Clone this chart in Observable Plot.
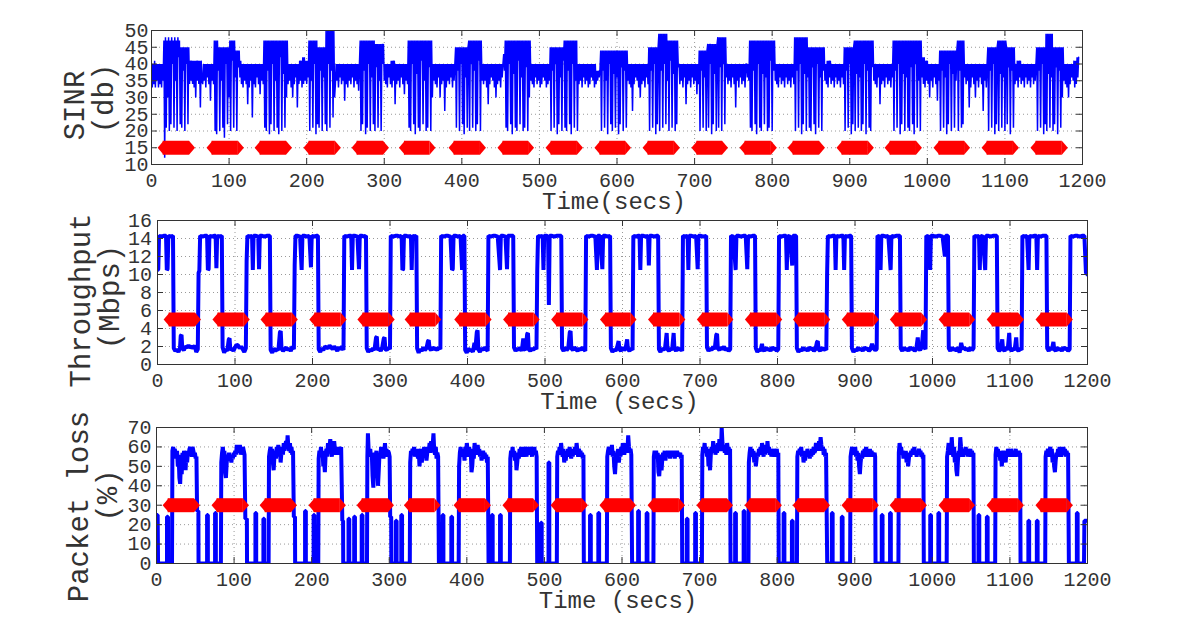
<!DOCTYPE html>
<html><head><meta charset="utf-8">
<script src="https://cdn.jsdelivr.net/npm/d3@7"></script>
<script src="https://cdn.jsdelivr.net/npm/@observablehq/plot@0.6"></script>
<style>
html,body{margin:0;padding:0;background:#fff;}
#chart{position:relative;width:1200px;height:633px;overflow:hidden;background:#fff;}
#chart > svg{position:absolute;left:0;}
</style></head><body><div id="chart"></div>
<script>
// ---------- tick labels ----------
const xTicks = [0,100,200,300,400,500,600,700,800,900,1000,1100,1200];
const sinrTicks = [10,15,20,25,30,35,40,45,50];
const tputTicks = [0,2,4,6,8,10,12,14,16];
const lossTicks = [0,10,20,30,40,50,60,70];

// ---------- red marker spans (flat part, secs) ----------
const markStart = [15,78,140,203,265,326,390,453,515,578,640,703,765,827,890,952,1015,1077,1140];
const markEnd   = [49,112,174,237,299,359,424,486,549,611,674,736,799,861,924,986,1048,1111,1174];
const markY = {sinr: 15, tput: 5, loss: 30};

// ---------- SINR (db), one sample per second from t=0 ----------
const SINR_DT = 1;
const sinr = [
40,33,40,34,41,33,40,35,40,33,40,34,40,33,40,35,
47,12,48,21,47,30,48,20,47,22,48,40,47,21,48,35,47,20,48,42,47,22,
45,21,45,38,45,20,45,40,45,22,45,
34,41,35,41,34,41,33,41,30,41,35,41,34,41,27,41,35,
34,40,35,40,33,40,36,40,34,40,29,40,35,40,34,
47,20,47,19,47,38,45,20,45,35,45,21,45,18,45,40,45,22,45,30,47,20,47,41,47,21,47,36,44,20,44,39,44,
36,41,34,40,33,40,35,40,34,40,28,40,33,40,35,40,24,40,34,40,33,40,36,40,34,40,31,40,35,40,34,
47,21,47,20,47,38,47,19,47,22,47,40,47,20,47,35,47,21,47,19,47,42,47,20,47,37,47,21,47,30,47,
34,40,35,40,33,40,30,40,34,40,36,40,27,40,34,41,35,41,33,42,34,42,35,41,34,41,36,
47,20,47,35,47,21,47,40,47,19,47,22,45,21,45,38,45,20,45,36,45,22,50,20,50,40,50,21,50,38,50,24,50,30,
34,40,35,40,33,40,36,40,34,40,35,40,29,40,34,40,33,40,35,40,34,40,36,40,33,40,35,40,34,40,32,40,
47,20,47,22,47,38,47,19,47,21,47,40,47,20,47,36,47,22,47,20,46,39,46,21,46,35,46,20,46,40,46,
35,40,34,40,33,40,36,40,34,41,33,41,35,41,28,40,34,40,35,40,33,40,36,40,34,40,31,40,35,40,34,
47,21,47,20,47,40,47,22,47,19,47,37,47,21,47,20,47,41,47,22,47,35,47,20,47,21,47,39,47,20,47,30,
40,35,40,34,40,33,40,36,40,30,40,34,40,35,40,26,40,33,40,35,40,34,40,36,40,33,40,35,40,
45,21,45,38,45,20,45,40,45,22,45,19,45,36,45,21,45,47,20,47,40,47,21,47,38,47,20,47,22,47,41,47,20,47,35,
40,34,40,35,40,33,40,28,40,34,40,36,40,35,40,33,40,30,40,34,40,35,40,33,40,36,40,
43,38,47,21,47,20,47,40,47,22,47,19,47,37,47,21,47,20,47,41,47,22,47,36,47,20,47,21,47,39,47,20,47,30,47,
35,40,34,40,33,40,36,40,34,40,35,40,33,40,34,40,36,40,35,40,33,40,34,40,35,
45,20,45,38,45,21,45,40,45,19,45,22,45,36,45,20,45,41,47,21,47,20,47,38,47,22,47,19,47,40,47,21,47,35,47,20,
40,34,40,35,40,33,40,36,40,34,40,35,40,33,40,34,40,36,40,35,40,33,40,34,38,35,38,36,38,
44,20,44,38,44,21,44,35,44,19,44,40,44,22,44,20,44,37,44,21,44,36,44,19,44,22,44,39,44,20,44,38,44,21,44,
35,40,34,40,33,40,26,40,34,40,36,40,35,40,33,40,30,40,34,40,35,40,33,40,36,40,34,
45,20,45,38,45,21,45,40,45,19,45,22,45,49,20,49,38,49,21,49,40,49,22,49,35,47,20,47,41,47,21,47,37,47,20,47,22,47,39,
40,34,40,35,40,33,40,36,40,28,40,34,40,35,40,33,40,36,40,34,40,35,40,31,40,34,
44,20,44,38,44,21,44,36,44,20,44,46,21,46,40,46,19,46,22,46,37,46,20,46,48,21,48,39,48,20,48,40,48,22,48,36,
40,34,40,35,40,33,40,36,40,34,40,27,40,35,40,33,40,36,40,34,40,35,40,33,40,
40,36,40,35,47,21,47,20,47,38,47,22,47,19,47,40,47,21,47,20,47,37,47,22,47,36,47,20,47,21,47,41,47,20,47,38,47,
35,40,34,40,33,40,36,40,34,40,35,40,33,40,36,40,34,40,35,40,33,40,36,40,34,
48,20,48,38,48,21,48,40,48,19,48,22,48,37,48,20,48,36,45,21,45,20,45,39,45,22,45,19,45,40,45,21,45,36,45,20,45,38,45,
35,40,34,41,33,41,36,41,34,40,35,40,33,40,36,40,34,40,35,40,33,40,36,40,34,
45,20,45,38,45,21,45,40,45,19,45,22,45,47,20,47,37,47,21,47,36,47,20,47,22,47,40,47,19,47,38,47,21,47,20,47,39,47,
35,40,34,40,33,40,36,40,28,40,34,40,35,40,33,40,36,40,34,40,35,40,33,40,36,
47,20,47,38,47,21,47,40,47,19,47,22,47,37,47,20,47,36,47,21,47,20,47,39,47,22,47,19,47,40,47,21,47,35,47,20,47,
36,42,34,42,33,41,35,41,34,40,30,40,35,40,33,40,36,40,34,40,29,40,35,
44,20,44,38,44,21,44,36,44,19,44,22,44,40,44,20,44,37,44,21,44,35,44,47,20,47,38,47,21,47,22,47,36,
40,34,40,35,40,27,40,33,40,36,40,34,40,30,40,35,40,33,40,36,40,34,40,26,40,35,40,33,40,
45,20,45,38,45,21,45,40,45,19,45,22,45,47,20,47,37,47,21,47,36,47,20,47,45,22,45,39,45,19,45,38,45,21,45,
34,40,35,41,33,41,36,41,34,40,35,40,33,40,36,40,34,40,35,40,33,40,36,40,34,40,35,40,
45,20,45,38,45,21,45,40,45,19,45,22,49,20,49,37,49,21,49,36,49,20,45,22,45,39,45,19,45,38,45,21,45,30,45,
35,40,34,40,33,40,30,40,34,40,36,40,35,41,33,41,34,42,36,42
];

// ---------- Throughput (Mbps): [secs, value] vertices ----------
const throughput = [
[0,10.5],[1,10.6],[2,14.3],[5,14.2],[8,14.3],[11,14.3],[12,10.5],[13,10.6],[14,14.3],[17,14.2],[20,14.3],
[21,1.8],[23,1.5],[25,1.7],[27,1.4],[29,1.8],[30,3.2],[31,3.3],[32,1.8],[34,1.6],[36,2.0],[38,1.9],[40,2.1],[42,1.9],[44,2.0],[46,1.8],[48,2.1],[50,1.4],[52,1.7],
[53,10.2],[54,10.4],[55,14.3],[58,14.2],[61,14.3],[64,14.3],[65,10.5],[66,10.6],[67,14.3],[70,14.2],[73,14.3],[75,14.3],[76,10.7],[77,14.3],[80,14.2],[83,14.3],
[84,1.9],[86,1.3],[88,1.7],[90,1.5],[92,2.8],[93,2.9],[94,1.6],[96,1.8],[98,1.5],[100,1.9],[102,2.2],[104,2.1],[106,1.8],[108,2.0],[110,1.7],[112,1.4],[114,1.8],
[115,11.5],[116,14.3],[119,14.2],[122,14.3],[123,10.5],[124,14.3],[127,14.3],[130,14.2],[131,10.6],[132,14.3],[135,14.3],[138,14.2],[141,14.3],[145,14.3],
[146,1.6],[148,1.3],[150,1.8],[152,1.5],[154,1.7],[156,1.6],[158,3.6],[159,3.7],[160,1.8],[162,1.5],[164,1.7],[166,1.9],[168,1.6],[170,1.8],[172,1.5],[174,2.0],[176,1.7],
[177,11],[178,14.3],[181,14.3],[184,14.2],[186,10.5],[187,14.3],[190,14.3],[193,14.2],[196,14.3],[198,10.8],[199,14.3],[202,14.2],[205,14.3],[207,14.3],
[208,1.7],[210,1.4],[212,1.8],[214,1.6],[216,2.0],[218,1.9],[220,1.8],[222,2.1],[224,1.9],[226,1.7],[228,2.0],[230,1.8],[232,1.5],[234,1.9],[236,1.7],[238,2.0],[240,1.6],
[241,14.3],[244,14.2],[247,14.3],[250,14.3],[251,10.5],[252,14.3],[255,14.3],[258,14.2],[260,10.6],[261,14.3],[264,14.3],[267,14.2],[269,14.3],
[270,1.8],[272,1.4],[274,1.7],[276,1.5],[278,1.8],[280,1.6],[282,3.0],[283,3.1],[284,1.6],[286,1.8],[288,1.5],[290,1.9],[292,2.9],[293,3.0],[294,1.7],[296,1.6],[298,1.9],[300,1.7],
[301,14.3],[304,14.2],[307,14.3],[310,14.3],[313,14.2],[315,14.3],[316,10.5],[317,10.6],[318,14.3],[321,14.3],[324,14.2],[327,14.3],[328,10.5],[329,14.3],[332,14.2],[334,14.3],
[335,1.8],[337,1.3],[339,1.7],[341,1.5],[343,1.9],[345,1.6],[347,1.8],[349,2.6],[350,2.7],[351,1.8],[353,1.6],[355,1.9],[357,1.7],[359,1.8],[361,1.6],[363,1.9],[365,1.7],
[366,14.3],[369,14.2],[372,14.3],[375,14.3],[378,14.2],[380,10.5],[381,10.6],[382,14.3],[385,14.3],[388,14.2],[391,14.3],[393,10.5],[394,14.3],[396,14.3],
[397,1.6],[399,1.3],[401,1.8],[403,1.5],[405,1.7],[407,1.4],[409,2.4],[410,1.6],[412,3.6],[413,3.8],[414,1.7],[416,1.4],[418,1.8],[420,1.6],[422,1.9],[424,1.7],[426,1.5],
[427,14.3],[430,14.2],[433,14.3],[436,14.3],[439,14.2],[442,10.5],[443,14.3],[446,14.3],[449,14.2],[451,10.6],[452,14.3],[455,14.3],[459,14.3],
[460,1.9],[462,1.5],[464,1.8],[466,1.6],[468,1.9],[470,1.5],[472,2.9],[473,1.8],[475,1.6],[477,3.4],[478,3.5],[479,1.7],[481,1.5],[483,1.8],[485,1.6],[487,1.9],[489,1.7],
[490,10.5],[491,14.3],[494,14.2],[497,14.3],[498,10.5],[499,14.3],[502,14.3],[504,14.2],[505,6.6],[506,14.3],[509,14.3],[512,14.2],[515,14.3],[518,14.3],[521,14.3],
[522,1.8],[524,1.5],[526,1.9],[528,1.6],[530,1.8],[532,3.6],[533,3.7],[534,1.8],[536,1.6],[538,1.9],[540,1.7],[542,1.5],[544,1.8],[546,1.6],[548,1.9],[550,1.7],[552,1.5],
[553,14.3],[556,14.2],[559,14.3],[562,14.3],[565,14.2],[567,10.5],[568,14.3],[571,14.3],[574,10.6],[575,14.3],[578,14.3],[581,14.2],[584,14.3],
[585,1.8],[587,1.4],[589,1.7],[591,1.5],[593,1.9],[595,2.6],[596,1.7],[598,1.5],[600,1.9],[602,1.6],[604,1.8],[606,2.8],[607,1.7],[609,1.5],[611,1.8],[613,1.6],
[614,14.3],[617,14.2],[620,14.3],[622,14.3],[623,10.5],[624,14.3],[627,14.3],[630,14.2],[633,14.3],[634,11],[635,14.3],[638,14.3],[641,14.2],[644,14.3],[646,14.3],
[647,1.7],[649,1.4],[651,1.8],[653,1.6],[655,1.9],[657,3.5],[658,1.7],[660,1.5],[662,1.8],[664,1.6],[666,3.5],[667,1.8],[669,1.5],[671,1.9],[673,1.6],[675,1.8],[677,1.5],
[678,14.3],[681,14.2],[684,14.3],[685,10.5],[686,14.3],[689,14.3],[692,14.2],[695,14.3],[697,10.6],[698,14.3],[701,14.3],[704,14.2],[708,14.3],
[709,1.9],[711,1.5],[713,1.8],[715,1.6],[717,2.0],[719,1.7],[721,3.3],[722,3.4],[723,1.8],[725,1.6],[727,1.9],[729,1.7],[731,2.0],[733,1.6],[735,1.8],[737,1.5],[739,1.7],
[740,14.3],[743,14.2],[746,10.5],[747,14.3],[750,14.3],[753,14.2],[756,14.3],[759,14.3],[761,10.6],[762,14.3],[765,14.2],[768,14.3],[771,14.3],
[772,1.8],[774,1.4],[776,1.7],[778,1.5],[780,2.3],[781,1.7],[783,1.5],[785,1.9],[787,1.6],[789,1.8],[791,1.5],[793,1.9],[795,1.7],[797,1.8],[799,1.5],[801,1.7],
[802,14.3],[805,14.2],[808,14.3],[811,14.3],[812,10.5],[813,14.3],[816,14.2],[819,11],[820,14.3],[822,14.3],[824,14.3],
[825,1.8],[827,1.4],[829,1.7],[831,1.5],[833,1.9],[835,1.6],[837,1.8],[839,1.5],[841,1.9],[843,1.7],[845,1.8],[847,1.5],[849,1.7],[851,2.5],[852,2.6],[853,1.7],[855,1.5],[857,1.9],[859,1.6],[861,1.8],[863,1.6],
[864,10],[865,14.3],[868,14.2],[871,14.3],[874,14.3],[875,10.5],[876,14.3],[879,14.2],[882,14.3],[885,14.3],[886,10.5],[887,14.3],[890,14.2],[893,14.3],[895,14.3],
[896,1.8],[898,1.4],[900,1.7],[902,1.5],[904,1.9],[906,1.6],[908,1.8],[910,1.5],[912,1.9],[914,1.7],[916,1.8],[918,1.5],[920,1.7],[922,2.3],[924,1.8],[926,1.6],[928,1.7],
[929,14.3],[932,14.2],[933,10.5],[934,14.3],[937,14.3],[940,14.2],[943,14.3],[946,10.5],[947,14.3],[950,14.2],[953,14.3],[956,14.3],[958,14.3],
[959,1.8],[961,1.5],[963,1.9],[965,1.6],[967,1.8],[969,1.5],[971,1.9],[973,1.7],[975,1.8],[977,1.5],[979,1.7],[981,3.0],[982,1.8],[984,1.6],[986,1.9],[988,3.8],[989,2.0],[991,1.7],
[992,14.3],[995,14.2],[997,10.5],[998,14.3],[1001,14.3],[1004,14.2],[1007,14.3],[1010,14.3],[1013,14.2],[1016,12],[1017,14.3],[1020,14.3],
[1021,1.8],[1023,1.5],[1025,1.9],[1027,1.6],[1029,1.8],[1031,1.5],[1033,1.9],[1035,1.3],[1037,2.4],[1039,1.7],[1041,1.9],[1043,1.6],[1045,1.8],[1047,1.5],[1049,1.9],[1051,1.6],[1053,1.8],
[1054,14.3],[1057,14.2],[1060,14.3],[1061,10.5],[1062,14.3],[1065,14.2],[1068,10.5],[1069,14.3],[1072,14.3],[1075,14.2],[1078,14.3],[1081,14.3],[1083,14.3],
[1084,1.8],[1086,1.5],[1088,1.7],[1090,2.8],[1091,1.7],[1093,1.5],[1095,1.9],[1097,1.6],[1099,3.5],[1100,1.8],[1102,1.5],[1104,1.8],[1106,1.6],[1108,3.0],[1109,1.7],[1111,1.5],[1113,1.8],[1115,1.6],
[1116,14.3],[1119,14.2],[1122,14.3],[1124,10.5],[1125,14.3],[1128,14.2],[1131,14.3],[1134,14.3],[1135,10.5],[1136,14.3],[1139,14.2],[1142,14.3],[1147,14.3],
[1148,1.8],[1150,1.5],[1152,1.9],[1154,1.6],[1156,2.5],[1157,1.7],[1159,1.5],[1161,1.9],[1163,1.6],[1165,1.8],[1167,1.5],[1169,1.9],[1171,1.7],[1173,1.8],[1175,1.5],[1177,1.7],
[1178,14.3],[1181,14.2],[1184,14.3],[1187,14.3],[1190,14.2],[1193,14.3],[1196,14.3],[1198,10.2],[1200,10]
];

// ---------- Packet loss (%): [secs, value] vertices ----------
const packetLoss = [
[0,25],[1.5,25],[2,0],[13.5,0],[13.5,24],[14.8,24],[14.8,0],
[20,0],[20.5,58],[21.5,60],[22.5,55],[23.5,59],[24.5,57],[25.5,54],[26.5,58],[27.5,50],[28.5,56],[29.5,44],[30.5,41],[31.5,52],[32.5,46],[33.5,57],[34.5,53],[35.5,58],[36.5,55],[37.5,48],[38.5,57],[39.5,52],[40.5,58],[41.5,56],[42.5,59],[43.5,60],[44.5,57],[45.5,55],[46.5,60],[47.5,58],[48.5,56],[49.5,57],[50.5,54],[51.5,55],
[52.3,27],[54,27],[54.2,0],[65.2,0],[65.2,25],[66.2,25],[66.2,0],[75.5,0],[75.5,26],[76.5,26],[76.5,0],
[83,0],[83.5,52],[84.5,57],[85.5,60],[86.5,55],[87.5,58],[88.5,47],[89.5,44],[90.5,52],[91.5,56],[92.5,54],[93.5,57],[94.5,53],[95.5,55],[96.5,52],[97.5,56],[98.5,54],[99.5,57],[100.5,55],[101.5,58],[102.5,56],[103.5,61],[104.5,57],[105.5,60],[106.5,58],[107.5,61],[108.5,56],[109.5,59],[110.5,57],[111.5,60],[112.5,58],[113.5,56],
[114.5,23],[116.5,23],[116.7,0],[127.5,0],[127.5,26],[128.5,26],[128.5,0],[137.8,0],[137.8,23],[138.8,23],[138.8,0],
[144.5,0],[145,55],[146,58],[147,60],[148,56],[149,59],[150,52],[151,48],[152,55],[153,58],[154,54],[155,60],[156,57],[157,61],[158,55],[159,59],[160,52],[161,57],[162,60],[163,56],[164,62],[165,58],[166,61],[167,63],[168,59],[169,66],[170,60],[171,58],[172,62],[173,57],[174,60],[175,56],[176,58],
[177,24],[178.5,24],[178.7,0],[191.5,0],[191.5,27],[192.5,27],[192.5,0],[202.5,0],[202.5,25],[203.5,25],[203.5,0],
[208.5,0],[209,54],[210,58],[211,56],[212,60],[213,55],[214,58],[215,50],[216,53],[217,47],[218,56],[219,59],[220,55],[221,62],[222,57],[223,60],[224,64],[225,58],[226,55],[227,61],[228,57],[229,63],[230,59],[231,56],[232,60],[233,57],[234,59],[235,56],[236,60],[237,58],[238,60],
[239.5,22],[240.5,22],[240.7,0],[247.5,0],[247.5,23],[248.5,23],[248.5,0],[254.8,0],[254.8,24],[255.8,24],[255.8,0],[264.5,0],[264.5,25],[265.5,25],[265.5,0],
[271.3,0],[271.8,55],[272.5,67],[273.5,58],[274.5,56],[275.5,59],[276.5,55],[277.5,57],[278.5,45],[279.5,39],[280.5,52],[281.5,57],[282.5,55],[283.5,58],[284.5,50],[285.5,40],[286.5,48],[287.5,57],[288.5,55],[289.5,60],[290.5,56],[291.5,58],[292.5,54],[293.5,57],[294.5,62],[295.5,56],[296.5,59],[297.5,55],[298.5,58],[299.5,57],[300.5,55],
[301.2,24],[302.5,24],[302.7,0],[308.5,0],[308.5,22],[309.5,22],[309.5,0],[315.5,0],[315.5,25],[316.5,25],[316.5,0],
[326.5,0],[327,52],[328,58],[329,56],[330,59],[331,57],[332,60],[333,55],[334,58],[335,57],[336,59],[337,54],[338,58],[339,50],[340,56],[341,59],[342,52],[343,57],[344,55],[345,60],[346,56],[347,58],[348,53],[349,57],[350,60],[351,58],[352,62],[353,57],[354,63],[355,59],[356,61],[357,67],[358,58],[359,56],[360,60],[361,54],[362,57],[363,55],
[364,0],[368.8,0],[368.8,25],[369.8,25],[369.8,0],[380,0],[380,24],[381,24],[381,0],
[389.5,0],[390,50],[391,57],[392,60],[393,56],[394,59],[395,55],[396,58],[397,53],[398,60],[399,57],[400,62],[401,58],[402,55],[403,60],[404,56],[405,59],[406,47],[407,50],[408,57],[409,54],[410,62],[411,58],[412,60],[413,56],[414,61],[415,57],[416,59],[417,55],[418,57],[419,53],[420,56],[421,58],[422,55],[423,57],[424,54],[425,56],[426,52],[427,55],
[428,0],[432.3,0],[432.3,25],[433.3,25],[433.3,0],[442.8,0],[442.8,25],[443.8,25],[443.8,0],
[455.5,0],[456,54],[457,58],[458,56],[459,60],[460,55],[461,58],[462,53],[463,57],[464,48],[465,52],[466,57],[467,54],[468,59],[469,56],[470,60],[471,57],[472,55],[473,59],[474,56],[475,60],[476,58],[477,55],[478,60],[479,57],[480,59],[481,56],[482,60],[483,58],[484,55],[485,59],[486,57],[487,60],[488,56],[489,58],[490,55],
[490.7,0],[495.5,0],[495.5,21],[496.5,21],[496.5,0],[505.3,0],[505.3,52],[506.3,52],[506.3,0],
[516,0],[516.5,55],[517.5,58],[518.5,56],[519.5,60],[520.5,57],[521.5,62],[522.5,58],[523.5,55],[524.5,59],[525.5,52],[526.5,56],[527.5,53],[528.5,58],[529.5,55],[530.5,59],[531.5,56],[532.5,60],[533.5,57],[534.5,54],[535.5,58],[536.5,55],[537.5,59],[538.5,56],[539.5,60],[540.5,57],[541.5,62],[542.5,58],[543.5,55],[544.5,59],[545.5,56],[546.5,58],[547.5,55],[548.5,57],[549.5,54],[550.3,56],
[550.8,0],[558.8,0],[558.8,25],[559.8,25],[559.8,0],[569.5,0],[569.5,26],[570.5,26],[570.5,0],
[580.5,0],[581,55],[582,58],[583,60],[584,56],[585,59],[586,57],[587,61],[588,55],[589,58],[590,50],[591,46],[592,53],[593,57],[594,55],[595,59],[596,52],[597,57],[598,55],[599,60],[600,57],[601,62],[602,58],[603,56],[604,60],[605,57],[606,62],[607,59],[608,66],[609,60],[610,57],[611,59],[612,56],
[613,0],[620.8,0],[620.8,27],[621.8,27],[621.8,0],[631.8,0],[631.8,26],[632.8,26],[632.8,0],
[640.5,0],[641,55],[642,58],[643,56],[644,58],[645,54],[646,57],[647,47],[648,45],[649,52],[650,56],[651,48],[652,54],[653,57],[654,55],[655,58],[656,53],[657,57],[658,55],[659,58],[660,56],[661,57],[662,54],[663,58],[664,55],[665,57],[666,56],[667,58],[668,54],[669,57],[670,55],[671,58],[672,56],[673,57],[674,55],[675,57],[676,54],[677,56],
[677.6,0],[683.5,0],[683.5,23],[684.5,23],[684.5,0],[694.3,0],[694.3,26],[695.3,26],[695.3,0],
[703,0],[703.5,56],[704.5,60],[705.5,58],[706.5,62],[707.5,57],[708.5,60],[709.5,55],[710.5,59],[711.5,50],[712.5,54],[713.5,48],[714.5,56],[715.5,60],[716.5,57],[717.5,63],[718.5,58],[719.5,61],[720.5,56],[721.5,60],[722.5,57],[723.5,62],[724.5,58],[725.5,64],[726.5,60],[727.5,58],[728.5,70],[729.5,62],[730.5,59],[731.5,61],[732.5,57],[733.5,60],[734.5,56],[735.5,62],[736.5,58],[737.5,60],[738.5,57],[739.3,59],
[739.9,0],[745.8,0],[745.8,26],[746.8,26],[746.8,0],[756.8,0],[756.8,27],[757.8,27],[757.8,0],
[763,0],[763.5,52],[764.5,57],[765.5,60],[766.5,56],[767.5,59],[768.5,55],[769.5,58],[770.5,52],[771.5,56],[772.5,50],[773.5,54],[774.5,57],[775.5,55],[776.5,59],[777.5,56],[778.5,60],[779.5,57],[780.5,62],[781.5,58],[782.5,55],[783.5,59],[784.5,56],[785.5,61],[786.5,57],[787.5,63],[788.5,58],[789.5,60],[790.5,56],[791.5,59],[792.5,55],[793.5,58],[794.5,56],[795.5,59],[796.5,55],[797.5,58],[798.5,56],[799.5,59],[800.5,55],[801.5,57],
[802,0],[808.3,0],[808.3,26],[809.3,26],[809.3,0],[819,0],[819,22],[820,22],[820,0],
[825.5,0],[826,55],[827,58],[828,56],[829,59],[830,57],[831,60],[832,55],[833,58],[834,52],[835,56],[836,53],[837,58],[838,55],[839,59],[840,56],[841,58],[842,54],[843,57],[844,55],[845,59],[846,56],[847,60],[848,57],[849,58],[850,62],[851,59],[852,61],[853,58],[854,63],[855,60],[856,65],[857,61],[858,58],[859,60],[860,56],[861,59],[862,55],[863,57],
[864.5,0],[870.5,0],[870.5,26],[871.5,26],[871.5,0],[883.3,0],[883.3,24],[884.3,24],[884.3,0],
[894,0],[894.6,55],[895.6,58],[896.6,60],[897.6,56],[898.6,59],[899.6,57],[900.6,60],[901.6,55],[902.6,58],[903.6,53],[904.6,57],[905.6,50],[906.6,46],[907.6,52],[908.6,56],[909.6,54],[910.6,58],[911.6,55],[912.6,59],[913.6,56],[914.6,60],[915.6,57],[916.6,55],[917.6,58],[918.6,56],[919.6,59],[920.6,55],[921.6,58],[922.6,56],[923.6,57],[924.6,55],[925.6,57],[926.3,55],
[926.8,0],[934.8,0],[934.8,25],[935.8,25],[935.8,0],[945.5,0],[945.5,26],[946.5,26],[946.5,0],
[956.3,0],[956.8,57],[957.8,62],[958.8,58],[959.8,60],[960.8,56],[961.8,58],[962.8,54],[963.8,57],[964.8,55],[965.8,58],[966.8,52],[967.8,55],[968.8,50],[969.8,54],[970.8,57],[971.8,55],[972.8,58],[973.8,56],[974.8,59],[975.8,57],[976.8,60],[977.8,56],[978.8,58],[979.8,55],[980.8,58],[981.8,56],[982.8,59],[983.8,57],[984.8,58],[985.8,55],[986.8,57],[987.8,54],[988.5,56],
[989,0],[997.3,0],[997.3,25],[998.3,25],[998.3,0],[1007.8,0],[1007.8,26],[1008.8,26],[1008.8,0],
[1018.5,0],[1019,55],[1020,58],[1021,62],[1022,57],[1023,60],[1024,56],[1025,65],[1026,58],[1027,55],[1028,60],[1029,52],[1030,57],[1031,48],[1032,45],[1033,53],[1034,58],[1035,55],[1036,65],[1037,60],[1038,57],[1039,59],[1040,55],[1041,58],[1042,56],[1043,60],[1044,57],[1045,59],[1046,55],[1047,58],[1048,56],[1049,59],[1050,55],[1051,58],[1052,56],[1053,57],
[1053.5,0],[1059.5,0],[1059.5,25],[1060.5,25],[1060.5,0],[1070.3,0],[1070.3,24],[1071.3,24],[1071.3,0],
[1081,0],[1081.5,56],[1082.5,60],[1083.5,57],[1084.5,59],[1085.5,55],[1086.5,58],[1087.5,53],[1088.5,57],[1089.5,50],[1090.5,55],[1091.5,58],[1092.5,54],[1093.5,57],[1094.5,52],[1095.5,58],[1096.5,55],[1097.5,59],[1098.5,56],[1099.5,58],[1100.5,55],[1101.5,59],[1102.5,56],[1103.5,58],[1104.5,55],[1105.5,58],[1106.5,56],[1107.5,59],[1108.5,55],[1109.5,58],[1110.5,56],[1111.5,58],[1112.5,55],[1113.2,57],
[1113.7,0],[1123.8,0],[1123.8,22],[1124.8,22],[1124.8,0],[1134.7,0],[1134.7,22],[1135.7,22],[1135.7,0],
[1145.5,0],[1146,55],[1147,58],[1148,56],[1149,59],[1150,55],[1151,58],[1152,60],[1153,56],[1154,59],[1155,52],[1156,56],[1157,50],[1158,47],[1159,53],[1160,57],[1161,55],[1162,59],[1163,56],[1164,60],[1165,57],[1166,55],[1167,58],[1168,56],[1169,60],[1170,57],[1171,59],[1172,55],[1173,58],[1174,56],[1175,57],
[1176,0],[1186.3,0],[1186.3,26],[1187.3,26],[1187.3,0],[1195.5,0],[1196,22],[1200,22]
];

// ---------- rendering ----------
const FONT = "'Liberation Mono','DejaVu Sans Mono',monospace";
const TEXT = "#333";
const BLUE = "#0000ff", RED = "#ff0000";
const tipRight = {draw(c){c.moveTo(-0.5,-7);c.lineTo(5.5,0);c.lineTo(-0.5,7);c.closePath();}};
const tipLeft  = {draw(c){c.moveTo(0.5,-7);c.lineTo(-5.5,0);c.lineTo(0.5,7);c.closePath();}};
const markers = markStart.map((s, i) => ({s, e: markEnd[i]}));

function panel(o) {
  const W = 1200 - o.ml - o.mr, H = o.height - o.mt - o.mb;
  const my = o.markY;
  const svg = Plot.plot({
    width: 1200, height: o.height,
    marginTop: o.mt, marginBottom: o.mb, marginLeft: o.ml, marginRight: o.mr,
    style: {fontFamily: FONT, color: TEXT, background: "transparent", overflow: "visible"},
    x: {domain: [0, 1200]},
    y: {domain: o.yDomain},
    marks: [
      Plot.gridX(xTicks, {stroke: "#999", strokeOpacity: 1, strokeDasharray: "1,3"}),
      Plot.gridY(o.yTicks, {stroke: "#999", strokeOpacity: 1, strokeDasharray: "1,3"}),
      Plot.line(o.data, {x: o.x, y: o.y, stroke: BLUE, strokeWidth: o.sw, strokeLinejoin: "miter", strokeMiterlimit: 1, clip: true}),
      Plot.ruleY(markers, {x1: "s", x2: "e", y: () => my, stroke: RED, strokeWidth: 14, strokeLinecap: "butt"}),
      Plot.dot(markers, {x: "e", y: () => my, symbol: tipRight, fill: RED, stroke: "none"}),
      Plot.dot(markers, {x: "s", y: () => my, symbol: tipLeft, fill: RED, stroke: "none"}),
      Plot.ruleX(xTicks, {insetTop: H - 6, stroke: TEXT}),
      Plot.ruleX(xTicks, {insetBottom: H - 6, stroke: TEXT}),
      Plot.ruleY(o.yTicks, {insetRight: W - 6, stroke: TEXT}),
      Plot.ruleY(o.yTicks, {insetLeft: W - 6, stroke: TEXT}),
      Plot.frame({stroke: TEXT}),
      Plot.axisX(xTicks, {tickSize: 0, tickPadding: 8, fontSize: 20, tickFormat: d => String(d), label: null}),
      Plot.axisY(o.yTicks, {tickSize: 0, tickPadding: o.ypad, fontSize: 20, tickFormat: d => String(d), label: null}),
      Plot.text([o.xlabel], {frameAnchor: "bottom", dx: o.xlDx, dy: 37, fontSize: 24, lineAnchor: "middle", fill: TEXT}),
      Plot.text([o.yl1], {frameAnchor: "top-left", dx: o.yl1Pos[0], dy: o.yl1Pos[1], rotate: -90, fontSize: 29, lineAnchor: "middle", textAnchor: "middle", fill: TEXT}),
      Plot.text([o.yl2], {frameAnchor: "top-left", dx: o.yl2Pos[0], dy: o.yl2Pos[1], rotate: -90, fontSize: 29, lineAnchor: "middle", textAnchor: "middle", fill: TEXT})
    ]
  });
  svg.style.top = o.top + "px";
  return svg;
}

const chart = document.getElementById("chart");
chart.appendChild(panel({
  top: 0, height: 210, mt: 30, mb: 46, ml: 151, mr: 118,
  data: sinr, x: (d, i) => i * SINR_DT, y: d => d, sw: 1.5,
  yDomain: [10, 50], yTicks: sinrTicks, ypad: 3, markY: markY.sinr,
  xlabel: "Time(secs)", xlDx: -3,
  yl1: "SINR", yl1Pos: [-77, 75], yl2: "(db)", yl2Pos: [-47.5, 68]
}));
chart.appendChild(panel({
  top: 210, height: 205, mt: 10, mb: 51, ml: 157, mr: 113,
  data: throughput, x: d => d[0], y: d => d[1], sw: 4,
  yDomain: [0, 16], yTicks: tputTicks, ypad: 5.5, markY: markY.tput,
  xlabel: "Time (secs)", xlDx: -3,
  yl1: "Throughput", yl1Pos: [-77, 80], yl2: "(Mbps)", yl2Pos: [-48, 76.5]
}));
chart.appendChild(panel({
  top: 415, height: 218, mt: 12, mb: 70, ml: 156, mr: 113,
  data: packetLoss, x: d => d[0], y: d => d[1], sw: 4,
  yDomain: [0, 70], yTicks: lossTicks, ypad: 5, markY: markY.loss,
  xlabel: "Time (secs)", xlDx: -4,
  yl1: "Packet loss", yl1Pos: [-78, 79], yl2: "(%)", yl2Pos: [-49, 68]
}));
</script></body></html>
